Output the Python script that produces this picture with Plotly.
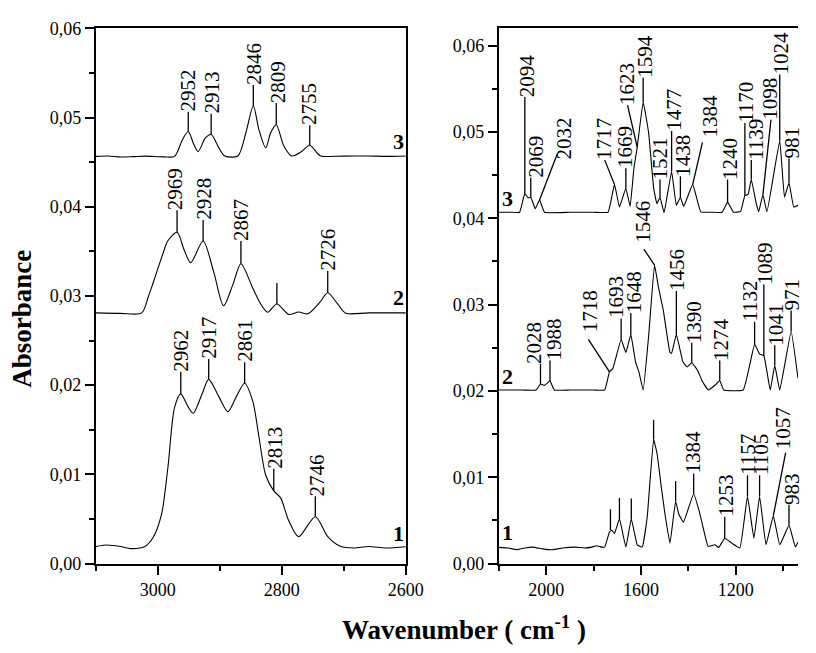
import plotly.graph_objects as go

FONT = "Liberation Serif"

# ---------------- Left panel: 3100-2600 cm-1 (wavenumber, absorbance) ----------------
L3_wn = [3100, 3080, 3060, 3040, 3020, 2990, 2973, 2960, 2951, 2942, 2935, 2923, 2914, 2902, 2892,
         2871, 2858, 2846, 2837, 2826, 2818, 2809, 2797, 2784, 2768, 2755, 2742, 2737, 2700, 2660, 2630, 2600]
L3_ab = [0.04565, 0.0457, 0.04558, 0.04562, 0.04568, 0.0456, 0.04565, 0.04758, 0.04845, 0.0470, 0.0462,
         0.04775, 0.0481, 0.04666, 0.0457, 0.0457, 0.0483, 0.0513, 0.04866, 0.0466, 0.0483, 0.0492,
         0.04685, 0.0457, 0.0462, 0.0469, 0.04595, 0.0457, 0.04568, 0.0457, 0.04565, 0.0457]

L2_wn = [3100, 3060, 3026, 3015, 3007, 2992, 2984, 2969, 2958, 2947, 2927, 2910, 2894, 2879, 2866,
         2847, 2834, 2823, 2808, 2789, 2773, 2758, 2739, 2726, 2710, 2697, 2660, 2600]
L2_ab = [0.0281, 0.02805, 0.0281, 0.0300, 0.0316, 0.0347, 0.03616, 0.03714, 0.03525, 0.03373, 0.03616,
         0.03272, 0.0289, 0.03127, 0.03362, 0.0309, 0.0291, 0.02818, 0.0291, 0.02793, 0.0282, 0.0280,
         0.02927, 0.03036, 0.0291, 0.02807, 0.0281, 0.0281]

L1_wn = [3100, 3084, 3060, 3044, 3021, 3007, 2994, 2984, 2973, 2963, 2952, 2943, 2929, 2918, 2902,
         2887, 2873, 2860, 2847, 2837, 2826, 2813, 2802, 2789, 2773, 2746, 2726, 2705, 2684, 2660, 2632, 2600]
L1_ab = [0.0019, 0.00207, 0.0019, 0.00167, 0.0019, 0.0030, 0.00554, 0.01062, 0.0175, 0.01902, 0.01768,
         0.01685, 0.01895, 0.02065, 0.01877, 0.01703, 0.01877, 0.02022, 0.01823, 0.01424, 0.0099,
         0.00815, 0.00736, 0.00482, 0.00301, 0.00525, 0.00301, 0.0019, 0.00174, 0.0019, 0.00174, 0.00188]

# peak labels, left panel
L_lab = ["2952", "2913", "2846", "2809", "2755", "2969", "2928", "2867", "", "2726",
         "2962", "2917", "2861", "2813", "2746"]
L_pk_wn = [2951, 2914, 2846, 2809, 2755, 2969, 2927, 2866, 2808, 2726, 2963, 2918, 2860, 2813, 2746]
L_pk_ab = [0.04845, 0.0481, 0.0513, 0.0492, 0.0469, 0.03714, 0.03616, 0.03362, 0.0291, 0.03036,
           0.01902, 0.02065, 0.02022, 0.00815, 0.00525]
L_top_ab = [0.05065, 0.05043, 0.05366, 0.05163, 0.04913, 0.0396, 0.03851, 0.03616, 0.03145, 0.03279,
            0.02149, 0.02293, 0.02258, 0.01062, 0.00753]
L_txt_wn = [2952, 2913, 2845, 2806, 2755, 2971, 2926, 2866, 2808, 2726, 2963, 2918, 2860, 2811, 2743]

# ---------------- Right panel: 2200-940 cm-1 ----------------
R3_wn = [2200, 2150, 2112, 2090, 2076, 2065, 2046, 2028, 2007, 1900, 1800, 1739, 1712, 1691, 1664,
         1646, 1630, 1616, 1591, 1568, 1547, 1533, 1520, 1503, 1471, 1451, 1434, 1420, 1382, 1348,
         1300, 1258, 1235, 1210, 1180, 1162, 1148, 1135, 1114, 1104, 1086, 1069, 1015, 995, 976, 956, 938]
R3_ab = [0.0407, 0.0407, 0.0407, 0.04289, 0.04236, 0.04244, 0.0411, 0.04213, 0.0407, 0.0407, 0.0407,
         0.0407, 0.04393, 0.04131, 0.04348, 0.04138, 0.0458, 0.04824, 0.05348, 0.04992, 0.04356,
         0.04169, 0.04244, 0.04064, 0.04543, 0.0415, 0.04244, 0.04138, 0.04393, 0.04075, 0.0407,
         0.0407, 0.04187, 0.0407, 0.0408, 0.04262, 0.0428, 0.0445, 0.04169, 0.04075, 0.04273, 0.04075,
         0.04899, 0.04244, 0.04412, 0.04131, 0.0415]

R2_wn = [2200, 2150, 2100, 2042, 2024, 2007, 1984, 1966, 1900, 1800, 1753, 1733, 1719, 1684, 1664,
         1643, 1623, 1609, 1591, 1568, 1543, 1526, 1506, 1478, 1471, 1451, 1423, 1405, 1386, 1362,
         1341, 1316, 1286, 1268, 1251, 1169, 1121, 1100, 1082, 1055, 1036, 1015, 967, 938]
R2_ab = [0.0201, 0.0201, 0.0201, 0.0201, 0.02079, 0.02064, 0.02116, 0.0201, 0.0201, 0.0201, 0.0201,
         0.02221, 0.02258, 0.02596, 0.02446, 0.02652, 0.02334, 0.0222, 0.0201, 0.02633, 0.03457,
         0.03194, 0.02933, 0.02446, 0.02435, 0.02652, 0.02334, 0.02278, 0.02326, 0.0224, 0.02109,
         0.0201, 0.02071, 0.0212, 0.0201, 0.0201, 0.02539, 0.02427, 0.02408, 0.0201, 0.02296, 0.0201,
         0.02689, 0.02146]

R1_wn = [2200, 2160, 2124, 2090, 2056, 2015, 1973, 1930, 1877, 1840, 1808, 1788, 1765, 1753, 1733,
         1723, 1712, 1691, 1664, 1641, 1616, 1595, 1574, 1547, 1533, 1513, 1499, 1478, 1454, 1441,
         1421, 1378, 1355, 1337, 1317, 1289, 1272, 1247, 1217, 1183, 1151, 1124, 1100, 1073, 1042,
         1015, 976, 949, 938]
R1_ab = [0.00187, 0.0018, 0.0016, 0.0018, 0.0019, 0.0017, 0.0016, 0.0018, 0.0019, 0.0018, 0.0019,
         0.00206, 0.0019, 0.0019, 0.00367, 0.00386, 0.00348, 0.00517, 0.00191, 0.00517, 0.00217,
         0.00191, 0.00536, 0.01435, 0.01284, 0.00854, 0.00573, 0.00236, 0.00722, 0.00573, 0.0048,
         0.00809, 0.0061, 0.00404, 0.00199, 0.00217, 0.00187, 0.00292, 0.00236, 0.0018, 0.00779,
         0.00292, 0.00779, 0.00217, 0.00554, 0.00217, 0.00442, 0.00191, 0.0025]

# peak labels, right panel
R_lab = ["2094", "2069", "2032", "1717", "1669", "1623", "1594", "1521", "1477", "1438", "1384",
         "1240", "1170", "1139", "1098", "1024", "981",
         "2028", "1988", "1718", "1693", "1648", "1546", "1456", "1390", "1274", "1132", "1089",
         "1041", "971",
         "", "", "", "", "", "1384", "1253", "1157", "1105", "1057", "983"]
R_pk_wn = [2090, 2065, 2028, 1712, 1664, 1616, 1591, 1520, 1471, 1434, 1382, 1235, 1162, 1135, 1086,
           1015, 976,
           2024, 1984, 1733, 1684, 1643, 1543, 1451, 1386, 1268, 1121, 1082, 1036, 967,
           1729, 1691, 1641, 1547, 1454, 1378, 1247, 1151, 1100, 1042, 976]
R_pk_ab = [0.04289, 0.04244, 0.04213, 0.04393, 0.04348, 0.04824, 0.05348, 0.04244, 0.04543, 0.04244,
           0.04393, 0.04187, 0.04262, 0.0445, 0.04273, 0.04899, 0.04412,
           0.02079, 0.02116, 0.02221, 0.02596, 0.02652, 0.03457, 0.02652, 0.02326, 0.0212, 0.02539,
           0.02408, 0.02296, 0.02689,
           0.00386, 0.00517, 0.00517, 0.01435, 0.00722, 0.00809, 0.00292, 0.00779, 0.00779, 0.00554,
           0.00442]
R_top_wn = [2090, 2065, 1953, 1753, 1664, 1657, 1591, 1520, 1471, 1434, 1341, 1235, 1162, 1135, 1052,
            1015, 976,
            2024, 1984, 1822, 1684, 1643, 1588, 1451, 1386, 1268, 1121, 1082, 1036, 967,
            1729, 1691, 1641, 1547, 1454, 1378, 1247, 1151, 1100, 990, 976]
R_top_ab = [0.05404, 0.04469, 0.04749, 0.04674, 0.04581, 0.05311, 0.05629, 0.04449, 0.05011, 0.04487,
            0.0488, 0.04449, 0.05104, 0.04674, 0.05143, 0.05666, 0.04693,
            0.02315, 0.02352, 0.02596, 0.02839, 0.02902, 0.03644, 0.03157, 0.02558, 0.02352, 0.02801,
            0.03233, 0.02528, 0.02933,
            0.00629, 0.00761, 0.00753, 0.01666, 0.00955, 0.01042, 0.00543, 0.01022, 0.01022, 0.01284,
            0.00678]
R_txt_wn = [2082, 2043, 1925, 1757, 1668, 1660, 1581, 1520, 1462, 1421, 1311, 1227, 1160, 1118, 1056,
            1008, 963,
            2054, 1971, 1812, 1703, 1629, 1595, 1448, 1379, 1263, 1139, 1077, 1029, 963,
            1729, 1691, 1641, 1547, 1454, 1379, 1242, 1148, 1093, 1000, 963]
R_txt_ab = [0.05404, 0.04469, 0.0468, 0.04674, 0.04581, 0.05311, 0.05629, 0.04449, 0.05011, 0.04487,
            0.04936, 0.04449, 0.05104, 0.04674, 0.05143, 0.05666, 0.04693,
            0.02315, 0.02352, 0.02678, 0.02839, 0.02902, 0.03719, 0.03157, 0.02558, 0.02352, 0.02801,
            0.03233, 0.02528, 0.02933,
            0.00629, 0.00761, 0.00753, 0.01666, 0.00955, 0.01042, 0.00543, 0.01022, 0.01022, 0.01326,
            0.00678]

# curve numbers
L_num = ["3", "2", "1"]
L_num_ab = [0.0463, 0.0288, 0.00228]
R_num = ["3", "2", "1"]
R_num_ab = [0.04124, 0.02056, 0.00247]

line_style = dict(color="black", width=1.1)
fig = go.Figure()
for wn, ab in [(L3_wn, L3_ab), (L2_wn, L2_ab), (L1_wn, L1_ab)]:
    fig.add_trace(go.Scatter(x=wn, y=ab, mode="lines", line=dict(shape="spline", smoothing=0.8, **line_style),
                             xaxis="x", yaxis="y", showlegend=False, hoverinfo="skip"))
for wn, ab in [(R3_wn, R3_ab), (R2_wn, R2_ab), (R1_wn, R1_ab)]:
    fig.add_trace(go.Scatter(x=wn, y=ab, mode="lines", line=dict(shape="spline", smoothing=0.3, **line_style),
                             xaxis="x2", yaxis="y2", showlegend=False, hoverinfo="skip"))

# leader lines
lx, ly = [], []
for w, a, t in zip(L_pk_wn, L_pk_ab, L_top_ab):
    lx += [w, w, None]
    ly += [a, t, None]
fig.add_trace(go.Scatter(x=lx, y=ly, mode="lines", line=dict(color="black", width=1.3),
                         xaxis="x", yaxis="y", showlegend=False, hoverinfo="skip"))
rx, ry = [], []
for w, a, tw, ta in zip(R_pk_wn, R_pk_ab, R_top_wn, R_top_ab):
    rx += [w, tw, None]
    ry += [a, ta, None]
fig.add_trace(go.Scatter(x=rx, y=ry, mode="lines", line=dict(color="black", width=1.3),
                         xaxis="x2", yaxis="y2", showlegend=False, hoverinfo="skip"))

ann = []
lab_font = dict(family=FONT, size=21, color="black")
for t, w, a in zip(L_lab, L_txt_wn, L_top_ab):
    if t:
        ann.append(dict(x=w, y=a, xref="x", yref="y", text=t, textangle=-90, showarrow=False,
                        xanchor="center", yanchor="bottom", font=lab_font, borderpad=0, yshift=-1))
for t, w, a in zip(R_lab, R_txt_wn, R_txt_ab):
    if t:
        ann.append(dict(x=w, y=a, xref="x2", yref="y2", text=t, textangle=-90, showarrow=False,
                        xanchor="center", yanchor="bottom", font=lab_font, borderpad=0, yshift=-1))

num_font = dict(family=FONT, size=22, color="black")
for t, a in zip(L_num, L_num_ab):
    ann.append(dict(x=2602, y=a, xref="x", yref="y", text="<b>%s</b>" % t, showarrow=False,
                    xanchor="right", yanchor="bottom", font=num_font, borderpad=0, yshift=-4))
for t, a in zip(R_num, R_num_ab):
    ann.append(dict(x=2190, y=a, xref="x2", yref="y2", text="<b>%s</b>" % t, showarrow=False,
                    xanchor="left", yanchor="bottom", font=num_font, borderpad=0, yshift=-4))

title_font = dict(family=FONT, size=27, color="black")
ann.append(dict(x=23 / 816, y=1 - 318 / 653, xref="paper", yref="paper", text="<b>Absorbance</b>",
                textangle=-90, showarrow=False, xanchor="center", yanchor="middle", font=title_font))
ann.append(dict(x=474 / 816, y=1 - 638 / 653, xref="paper", yref="paper",
                text="<b>Wavenumber ( cm<sup>-1</sup> )</b>",
                showarrow=False, xanchor="center", yanchor="middle", font=title_font))

tick_font = dict(family=FONT, size=18, color="black")
axis_common = dict(showline=True, linecolor="black", linewidth=2, ticks="outside", ticklen=9,
                   tickwidth=1.5, tickcolor="black", showgrid=False, zeroline=False, tickfont=tick_font)

fig.update_layout(
    width=816, height=653, autosize=False,
    margin=dict(l=0, r=0, t=0, b=0),
    paper_bgcolor="white", plot_bgcolor="white",
    separators=",.",
    annotations=ann,
    xaxis=dict(domain=[98 / 816, 415 / 816], range=[3100, 2600], tick0=3000, dtick=200,
               tickformat="d", mirror=True, anchor="y",
               minor=dict(dtick=100, tick0=3000, ticklen=5, tickwidth=1.5, tickcolor="black", ticks="outside"),
               **axis_common),
    yaxis=dict(domain=[82 / 653, 1 - 19 / 653], range=[0, 0.06], dtick=0.01, tick0=0,
               tickformat=".2f", mirror=True, anchor="x",
               minor=dict(dtick=0.005, tick0=0, ticklen=5, tickwidth=1.5, tickcolor="black", ticks="outside"),
               **axis_common),
    xaxis2=dict(domain=[510 / 816, 1.0], range=[2200, 938], tick0=2000, dtick=400,
                tickformat="d", mirror=True, anchor="y2",
                minor=dict(dtick=200, tick0=2000, ticklen=5, tickwidth=1.5, tickcolor="black", ticks="outside"),
                **axis_common),
    yaxis2=dict(domain=[82 / 653, 1 - 19 / 653], range=[0, 0.062], dtick=0.01, tick0=0,
                tickformat=".2f", mirror=False, anchor="x2",
                minor=dict(dtick=0.005, tick0=0, ticklen=5, tickwidth=1.5, tickcolor="black", ticks="outside"),
                **axis_common),
)

fig.write_html("out.html")
